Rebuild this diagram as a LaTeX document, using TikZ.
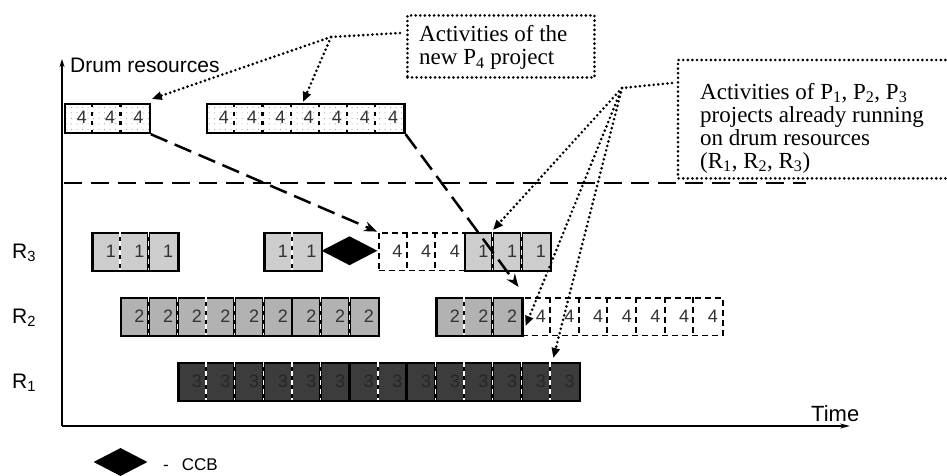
\documentclass[tikz,border=0pt]{standalone}
\usepackage{fontspec}
\setmainfont{Liberation Serif}
\setsansfont{Liberation Sans}
\usetikzlibrary{arrows.meta,calc,patterns.meta,shapes.geometric}
\definecolor{lightg}{HTML}{CDCDCD}
\definecolor{midg}{HTML}{B2B2B2}
\definecolor{darkg}{HTML}{3C3C3C}
\definecolor{digc}{HTML}{333333}
\definecolor{digd}{HTML}{262626}
\newcommand{\cw}{28.67}
\newcommand{\drawcells}[7]{%
  \node[cellbox, fill=#5, minimum width={#4*\cw}] (#1) at (#2,#3) {};
  \pgfmathtruncatemacro\nmo{#4-1}%
  \foreach \i in {1,...,\nmo}{%
    \draw[divblack] ({#2+\i*\cw},#3) -- ++(0,37.5);
    \draw[divwhite] ({#2+\i*\cw},#3) -- ++(0,37.5);
  }%
  \foreach \i in {1,...,#4}{%
    \node[dig, text=#7] at ({#2+\i*\cw-4},{#3+25.75}) {#6};
  }%
}
\newcommand{\dashcells}[5]{%
  \node[dashbox, minimum width={#4*\cw}] (#1) at (#2,#3) {};
  \pgfmathtruncatemacro\nmo{#4-1}%
  \foreach \i in {1,...,\nmo}{\draw[dashdiv] ({#2+\i*\cw},#3) -- ++(0,37.5);}%
  \foreach \i in {1,...,#4}{\node[dig, text=digc] at ({#2+\i*\cw-4},{#3+25.75}) {#5};}%
}
\newcommand{\topcells}[3]{%
  \node[topbox, minimum width={#3*28.2}] (#1) at (#2,103) {};
  \pgfmathtruncatemacro\nmo{#3-1}%
  \foreach \i in {1,...,\nmo}{\draw[topdiv] ({#2+\i*28.2},103) -- ++(0,29);}%
  \foreach \i in {1,...,#3}{\node[dig, text=digc] at ({#2+\i*28.2-5},123.5) {4};}%
}
\begin{document}
\begin{tikzpicture}[x=1pt,y=-1pt,
  cellbox/.style={draw=black, line width=2.2pt, inner sep=0pt, anchor=north west, minimum height=37.5pt},
  dashbox/.style={draw=black, line width=1.9pt, dash pattern=on 6pt off 4pt, fill=white, inner sep=0pt, anchor=north west, minimum height=37.5pt},
  dashdiv/.style={line width=1.9pt, dash pattern=on 6pt off 4pt},
  divblack/.style={line width=2.6pt},
  divwhite/.style={white, line width=1.4pt, dash pattern=on 5pt off 4pt},
  solidiv/.style={line width=2.2pt},
  topbox/.style={draw=black, line width=2.2pt, inner sep=0pt, anchor=north west, minimum height=29pt, pattern={Dots[distance=5.5pt, radius=0.5pt]}, pattern color=black!45},
  topdiv/.style={line width=2.2pt, dash pattern=on 4pt off 5pt},
  dotln/.style={line width=2.9pt, dash pattern=on 0pt off 4.6pt, line cap=round},
  dotarr/.style={dotln, -{Triangle[length=10pt, width=8pt]}},
  longdash/.style={line width=2.5pt, dash pattern=on 18pt off 8pt},
  longarr/.style={longdash, -{Stealth[length=13pt, width=10pt]}},
  ccb/.style={diamond, fill=black, inner sep=0pt, minimum width=56pt, minimum height=29pt},
  dig/.style={font=\sffamily\fontsize{18}{18}\selectfont, anchor=base east, inner sep=0pt},
  rlab/.style={font=\sffamily\fontsize{21}{21}\selectfont, anchor=base west, inner sep=0pt},
  sanslab/.style={font=\sffamily\fontsize{21}{21}\selectfont, anchor=base west, inner sep=0pt},
  serifbox/.style={font=\fontsize{23}{23}\selectfont, align=left, anchor=base west, inner sep=0pt},
  axis/.style={line width=1.5pt}
]
\useasboundingbox (0,0) rectangle (947,476);

% axes
\coordinate (O) at (62,426);
\coordinate (ytop) at (62,59);
\coordinate (xend) at (850,426);
\draw[axis, -{Stealth[length=8pt,width=5pt]}] (O) -- (ytop);
\draw[axis, -{Stealth[length=10pt,width=5pt]}] (O) -- (xend);
\node[sanslab] (drum) at (70,72.5) {Drum resources};
\node[sanslab, font=\sffamily\fontsize{22}{22}\selectfont] (time) at (811,421) {Time};

% separator
\coordinate (sepL) at (64,183);
\coordinate (sepR) at (806,183);
\draw[longdash, line width=2.7pt, dash pattern=on 18pt off 9pt] (sepL) -- (sepR);

% row labels
\node[rlab] (lr3) at (12,258) {R\textsubscript{3}};
\node[rlab] (lr2) at (12,323) {R\textsubscript{2}};
\node[rlab] (lr1) at (12,388) {R\textsubscript{1}};

% top P4 boxes
\topcells{topA}{64}{3}
\topcells{topB}{206}{7}

% R3 row
\dashcells{r3d}{378}{232}{3}{4}
\drawcells{r3a}{91.33}{232}{3}{lightg}{1}{digc}
\drawcells{r3b}{263.33}{232}{2}{lightg}{1}{digc}
\drawcells{r3c}{464}{232}{3}{lightg}{1}{digc}
\node[ccb] (ccb1) at (349.5,250.75) {};

% R2 row
\dashcells{r2d}{521.33}{297}{7}{4}
\drawcells{r2a}{120}{297}{9}{midg}{2}{digc}
\draw[solidiv] (292,297) -- ++(0,37.5);
\drawcells{r2b}{435.33}{297}{3}{midg}{2}{digc}

% R1 row
\drawcells{r1}{177.33}{362}{14}{darkg}{3}{digd}
\draw[solidiv] (349.33,362) -- ++(0,37.5);
\draw[solidiv] (406.67,362) -- ++(0,37.5);

% long dashed arrows
\draw[longarr, shorten >=1pt] (topA.south east) -- (r3d.north west);
\draw[longarr] (topB.south east) -- ($(r2b.north east)+(-5,-10)$);

% P4 callout
\node[draw, dotln, inner sep=0pt, anchor=north west, minimum width=187pt, minimum height=62pt] (p4) at (406,14) {};
\node[serifbox] (p4t) at (419,65) {Activities of the\\new P\textsubscript{4} project};
\coordinate (hubA) at (331,37);
\draw[dotln] ($(p4.north west)+(-6,19)$) -- (hubA);
\draw[dotarr] (hubA) -- ($(topA.north east)+(1,-4)$);
\draw[dotarr] (hubA) -- ($(topB.north west)+(97,-1)$);

% P1-P3 callout
\node[inner sep=0pt, anchor=north west, minimum width=290pt, minimum height=118pt] (p123) at (678,60) {};
\draw[dotln] (p123.north east) -- (p123.north west) -- (p123.south west) -- (p123.south east);
\node[serifbox] (p123t) at (700,168) {Activities of P\textsubscript{1}, P\textsubscript{2}, P\textsubscript{3}\\projects already running\\on drum resources\\(R\textsubscript{1}, R\textsubscript{2}, R\textsubscript{3})};
\coordinate (hubR) at (622,88);
\draw[dotln] ($(p123.north west)+(-6,23)$) -- (hubR);
\draw[dotarr] (hubR) -- ($(r3c.north west)+(29,-2)$);
\draw[dotarr] (hubR) -- ($(r2b.north east)+(2,29)$);
\draw[dotarr] (hubR) -- ($(r1.north west)+(376,-4)$);

% legend
\node[ccb, minimum width=54pt, minimum height=28pt] (ccbl) at (120.5,462) {};
\node[sanslab, font=\sffamily\fontsize{17}{17}\selectfont] (ccbt) at (163,470) {-\hspace{13pt}CCB};
\end{tikzpicture}
\end{document}
